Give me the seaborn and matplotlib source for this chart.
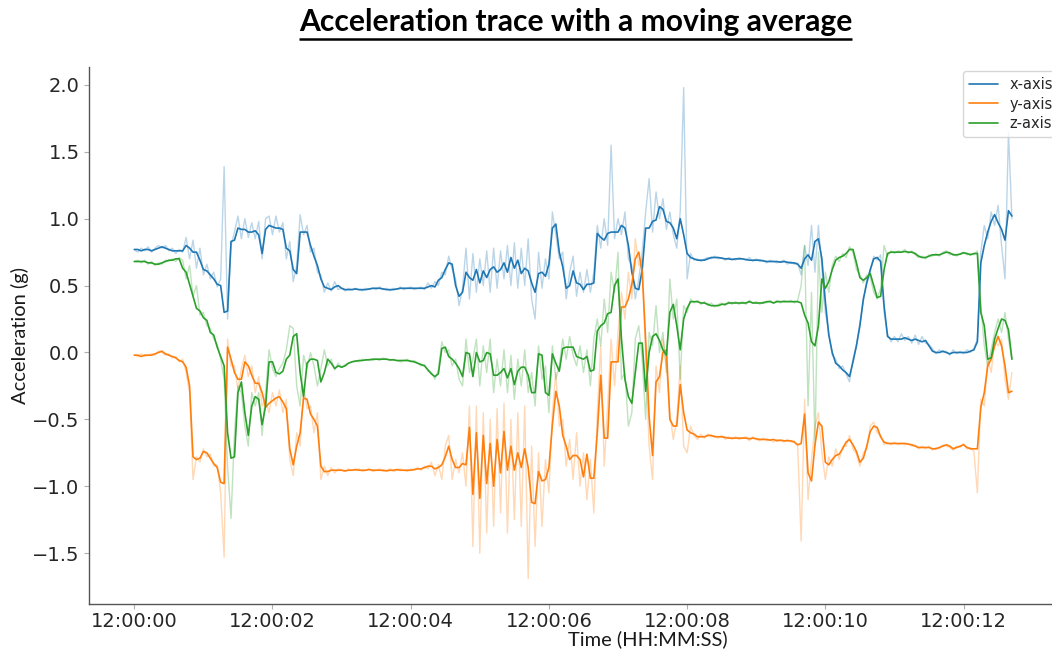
import numpy as np
import pandas as pd
import matplotlib
matplotlib.use("Agg")
import matplotlib.pyplot as plt
import matplotlib.dates as mdates
from matplotlib.lines import Line2D
from matplotlib.ticker import MultipleLocator
import seaborn as sns

# Sampling: one reading every 50 ms starting at 12:00:00
start = pd.Timestamp("2021-01-01 12:00:00")
step_s = 0.05
axis_names = ["x-axis", "y-axis", "z-axis"]
axis_colors = ["#1f77b4", "#ff7f0e", "#2ca02c"]

# ---- x-axis: raw trace and moving average (g) ----
x_raw = [
    0.77, 0.75, 0.78, 0.76, 0.79, 0.75, 0.78, 0.80, 0.78, 0.80,
    0.76, 0.78, 0.74, 0.77, 0.75, 0.86, 0.70, 0.84, 0.63, 0.78,
    0.58, 0.66, 0.55, 0.60, 0.49, 0.55, 1.39, 0.25, 0.80, 0.90,
    1.02, 0.85, 1.00, 0.86, 0.97, 0.85, 0.98, 0.70, 1.00, 1.02,
    0.88, 1.02, 0.90, 0.97, 0.70, 0.83, 0.53, 0.65, 1.03, 0.88,
    0.95, 0.75, 0.78, 0.60, 0.58, 0.45, 0.52, 0.46, 0.53, 0.47,
    0.48, 0.46, 0.48, 0.47, 0.48, 0.47, 0.46, 0.48, 0.47, 0.48,
    0.47, 0.49, 0.47, 0.48, 0.46, 0.48, 0.47, 0.49, 0.47, 0.48,
    0.49, 0.47, 0.48, 0.49, 0.47, 0.52, 0.48, 0.53, 0.50, 0.60,
    0.58, 0.72, 0.62, 0.55, 0.35, 0.48, 0.78, 0.40, 0.74, 0.45,
    0.70, 0.50, 0.76, 0.45, 0.78, 0.48, 0.76, 0.55, 0.80, 0.50,
    0.82, 0.48, 0.78, 0.50, 0.85, 0.40, 0.25, 0.75, 0.48, 0.70,
    0.55, 1.05, 0.88, 0.70, 0.75, 0.40, 0.60, 0.72, 0.42, 0.60,
    0.45, 0.62, 0.45, 0.60, 0.95, 0.78, 1.00, 0.80, 1.55, 0.85,
    1.00, 0.88, 1.05, 0.70, 0.65, 0.40, 0.55, 0.75, 1.05, 1.30,
    0.90, 1.20, 1.00, 1.15, 0.92, 1.05, 0.88, 0.78, 1.05, 1.98,
    0.55, 0.74, 0.69, 0.70, 0.68, 0.70, 0.71, 0.70, 0.72, 0.70,
    0.71, 0.69, 0.71, 0.70, 0.69, 0.71, 0.70, 0.69, 0.71, 0.68,
    0.70, 0.68, 0.69, 0.67, 0.69, 0.68, 0.67, 0.68, 0.69, 0.66,
    0.68, 0.66, 0.67, 0.58, 0.80, 0.65, 0.95, 0.60, 0.95, 0.62,
    0.30, 0.15, -0.02, -0.05, -0.12, -0.10, -0.16, -0.22, -0.05, 0.06,
    0.22, 0.38, 0.55, 0.60, 0.72, 0.69, 0.73, 0.30, 0.14, 0.08,
    0.12, 0.08, 0.14, 0.09, 0.12, 0.07, 0.13, 0.06, 0.12, 0.07,
    0.06, 0.03, -0.01, 0.02, 0.00, 0.01, -0.02, 0.02, -0.01, 0.01,
    -0.01, 0.02, 0.00, 0.03, 0.10, 0.75, 0.95, 0.85, 1.05, 0.95,
    1.10, 0.80, 0.55, 1.65, 1.00,
]
x_avg = [
    0.77, 0.77, 0.76, 0.77, 0.77, 0.76, 0.77, 0.78, 0.79, 0.78,
    0.77, 0.76, 0.76, 0.76, 0.76, 0.80, 0.78, 0.75, 0.75, 0.69,
    0.62, 0.61, 0.58, 0.55, 0.51, 0.50, 0.30, 0.31, 0.83, 0.84,
    0.93, 0.92, 0.92, 0.90, 0.90, 0.91, 0.88, 0.74, 0.92, 0.95,
    0.94, 0.93, 0.93, 0.92, 0.78, 0.76, 0.62, 0.59, 0.90, 0.90,
    0.90, 0.80, 0.72, 0.65, 0.55, 0.49, 0.48, 0.47, 0.49, 0.50,
    0.48, 0.47, 0.47, 0.47, 0.475, 0.47, 0.47, 0.47, 0.475, 0.48,
    0.48, 0.48, 0.475, 0.47, 0.47, 0.47, 0.475, 0.48, 0.48, 0.48,
    0.48, 0.48, 0.48, 0.48, 0.48, 0.49, 0.50, 0.49, 0.54, 0.56,
    0.62, 0.67, 0.66, 0.50, 0.42, 0.45, 0.60, 0.56, 0.54, 0.62,
    0.52, 0.61, 0.56, 0.62, 0.64, 0.60, 0.62, 0.67, 0.60, 0.71,
    0.63, 0.69, 0.59, 0.63, 0.61, 0.52, 0.45, 0.59, 0.60, 0.57,
    0.66, 0.93, 0.96, 0.75, 0.64, 0.48, 0.50, 0.61, 0.52, 0.51,
    0.47, 0.51, 0.51, 0.52, 0.89, 0.86, 0.84, 0.89, 0.90, 0.90,
    0.90, 0.95, 0.93, 0.80, 0.60, 0.48, 0.47, 0.62, 0.93, 0.93,
    0.98, 0.99, 1.09, 1.07, 0.98, 0.97, 0.93, 0.85, 1.00, 0.88,
    0.74, 0.71, 0.70, 0.69, 0.69, 0.69, 0.70, 0.71, 0.71, 0.71,
    0.705, 0.70, 0.70, 0.695, 0.70, 0.70, 0.70, 0.695, 0.69, 0.69,
    0.69, 0.69, 0.685, 0.68, 0.68, 0.68, 0.68, 0.675, 0.68, 0.675,
    0.67, 0.67, 0.66, 0.63, 0.70, 0.73, 0.69, 0.83, 0.85, 0.70,
    0.38, 0.13, 0.00, -0.08, -0.10, -0.13, -0.15, -0.18, -0.07, 0.05,
    0.20, 0.40, 0.52, 0.62, 0.70, 0.71, 0.68, 0.35, 0.12, 0.10,
    0.10, 0.10, 0.10, 0.11, 0.10, 0.09, 0.10, 0.09, 0.08, 0.09,
    0.05, 0.01, 0.00, 0.00, 0.01, 0.00, -0.01, 0.00, 0.00, 0.00,
    0.00, 0.00, 0.01, 0.02, 0.08, 0.67, 0.80, 0.90, 0.98, 1.03,
    0.97, 0.92, 0.84, 1.06, 1.02,
]

# ---- y-axis: raw trace and moving average (g) ----
y_raw = [
    -0.02, -0.03, -0.01, -0.03, -0.02, -0.01, -0.02, 0.01, 0.00, -0.02,
    -0.01, -0.04, -0.03, -0.07, -0.05, -0.15, -0.30, -0.95, -0.78, -0.82,
    -0.72, -0.78, -0.76, -0.85, -0.84, -1.05, -1.53, 0.10, -0.10, -0.10,
    -0.28, -0.12, -0.02, -0.18, -0.10, -0.30, -0.18, -0.40, -0.35, -0.45,
    -0.30, -0.40, -0.28, -0.45, -0.35, -0.80, -0.92, -0.60, -0.70, -0.25,
    -0.42, -0.40, -0.60, -0.45, -0.95, -0.85, -0.92, -0.86, -0.90, -0.87,
    -0.88, -0.89, -0.87, -0.88, -0.88, -0.87, -0.89, -0.88, -0.87, -0.89,
    -0.88, -0.87, -0.89, -0.88, -0.87, -0.89, -0.88, -0.87, -0.88, -0.89,
    -0.87, -0.88, -0.86, -0.88, -0.85, -0.87, -0.82, -0.92, -0.84, -0.95,
    -0.70, -0.62, -0.95, -0.80, -0.90, -0.75, -1.00, -0.40, -1.45, -0.40,
    -1.50, -0.45, -1.35, -0.50, -1.30, -0.42, -1.20, -0.38, -1.35, -0.50,
    -1.25, -0.45, -1.30, -0.40, -1.69, -0.70, -1.45, -0.75, -1.30, -0.80,
    -1.05, -0.45, -0.15, -0.55, -0.50, -0.85, -0.65, -0.95, -0.60, -1.00,
    -0.75, -1.10, -0.80, -1.20, -0.45, 0.05, -0.85, -0.40, 0.10, -0.25,
    0.15, 0.45, 0.25, 0.60, 0.40, 0.85, 0.65, 0.70, -0.05, -0.70,
    -0.95, -0.10, -0.30, 0.10, -0.10, -0.45, -0.65, -0.50, -0.10, -0.70,
    -0.75, -0.55, -0.62, -0.65, -0.61, -0.64, -0.61, -0.63, -0.62, -0.64,
    -0.62, -0.65, -0.63, -0.65, -0.63, -0.65, -0.64, -0.63, -0.66, -0.63,
    -0.65, -0.66, -0.64, -0.66, -0.65, -0.67, -0.65, -0.66, -0.67, -0.65,
    -0.67, -0.66, -0.70, -1.41, -0.35, -1.10, -0.80, -0.55, -0.45, -0.75,
    -0.95, -0.78, -0.85, -0.72, -0.80, -0.70, -0.70, -0.62, -0.72, -0.76,
    -0.85, -0.75, -0.72, -0.55, -0.52, -0.60, -0.62, -0.69, -0.67, -0.69,
    -0.67, -0.69, -0.68, -0.69, -0.68, -0.70, -0.69, -0.72, -0.70, -0.72,
    -0.70, -0.73, -0.71, -0.72, -0.69, -0.70, -0.71, -0.73, -0.70, -0.71,
    -0.68, -0.72, -0.71, -0.74, -1.05, -0.35, -0.40, -0.05, -0.15, 0.08,
    0.05, 0.10, -0.20, -0.35, -0.15,
]
y_avg = [
    -0.02, -0.02, -0.03, -0.02, -0.02, -0.02, -0.01, 0.00, 0.01, -0.01,
    -0.02, -0.03, -0.04, -0.06, -0.07, -0.11, -0.25, -0.78, -0.80, -0.79,
    -0.74, -0.75, -0.79, -0.83, -0.86, -0.97, -0.98, 0.04, -0.05, -0.15,
    -0.20, -0.20, -0.07, -0.10, -0.17, -0.23, -0.23, -0.30, -0.41, -0.38,
    -0.36, -0.34, -0.33, -0.37, -0.42, -0.72, -0.84, -0.70, -0.60, -0.34,
    -0.35, -0.46, -0.50, -0.55, -0.85, -0.89, -0.89, -0.88, -0.88, -0.88,
    -0.88, -0.885, -0.88, -0.88, -0.875, -0.88, -0.88, -0.88, -0.875, -0.88,
    -0.88, -0.88, -0.88, -0.885, -0.88, -0.88, -0.875, -0.88, -0.88, -0.88,
    -0.88, -0.875, -0.87, -0.87, -0.86, -0.85, -0.85, -0.87, -0.86, -0.84,
    -0.78, -0.70, -0.80, -0.86, -0.86, -0.83, -0.84, -0.56, -1.06, -0.60,
    -1.09, -0.62, -0.98, -0.68, -1.00, -0.65, -0.90, -0.59, -0.88, -0.70,
    -0.88, -0.75, -0.86, -0.72, -0.86, -1.12, -1.13, -0.89, -0.96, -0.95,
    -0.86, -0.54, -0.29, -0.40, -0.62, -0.70, -0.80, -0.77, -0.77, -0.80,
    -0.93, -0.76, -0.94, -0.94, -0.60, -0.17, -0.64, -0.64, -0.07, -0.07,
    -0.07, 0.34, 0.34, 0.40, 0.51, 0.70, 0.75, 0.60, 0.09, -0.48,
    -0.77, -0.22, -0.18, 0.00, 0.02, -0.50, -0.55, -0.55, -0.24, -0.45,
    -0.58, -0.60, -0.61, -0.63, -0.63, -0.63, -0.62, -0.62, -0.63, -0.63,
    -0.63, -0.635, -0.64, -0.64, -0.64, -0.64, -0.64, -0.64, -0.645, -0.64,
    -0.645, -0.65, -0.65, -0.65, -0.655, -0.65, -0.66, -0.655, -0.66, -0.66,
    -0.66, -0.67, -0.69, -0.68, -0.46, -0.90, -0.96, -0.69, -0.52, -0.55,
    -0.82, -0.84, -0.80, -0.77, -0.76, -0.72, -0.67, -0.65, -0.69, -0.74,
    -0.82, -0.79, -0.70, -0.59, -0.55, -0.56, -0.63, -0.67, -0.68, -0.68,
    -0.68, -0.68, -0.68, -0.68, -0.685, -0.69, -0.70, -0.71, -0.71, -0.71,
    -0.71, -0.72, -0.72, -0.71, -0.70, -0.69, -0.70, -0.72, -0.71, -0.70,
    -0.69, -0.71, -0.72, -0.72, -0.72, -0.41, -0.30, -0.10, -0.05, 0.05,
    0.12, 0.05, -0.10, -0.30, -0.29,
]

# ---- z-axis: raw trace and moving average (g) ----
z_raw = [
    0.68, 0.69, 0.67, 0.69, 0.66, 0.68, 0.65, 0.67, 0.66, 0.69,
    0.68, 0.70, 0.68, 0.71, 0.69, 0.55, 0.65, 0.42, 0.50, 0.28,
    0.30, 0.20, 0.18, 0.10, 0.06, -0.05, -0.20, -0.85, -1.24, -0.60,
    -0.25, -0.30, -0.55, -0.70, -0.30, -0.40, -0.30, -0.62, -0.30, 0.02,
    -0.12, -0.18, -0.12, -0.08, 0.02, 0.20, 0.18, -0.25, -0.40, -0.02,
    -0.12, 0.00, -0.10, -0.25, -0.12, 0.02, -0.10, -0.05, -0.13, -0.08,
    -0.11, -0.09, -0.08, -0.07, -0.06, -0.07, -0.05, -0.06, -0.05, -0.06,
    -0.05, -0.06, -0.04, -0.05, -0.06, -0.05, -0.06, -0.07, -0.06, -0.05,
    -0.07, -0.06, -0.08, -0.10, -0.09, -0.14, -0.15, -0.20, -0.13, 0.08,
    0.00, 0.02, -0.10, -0.05, -0.20, -0.25, 0.10, -0.15, -0.05, 0.10,
    -0.25, 0.05, -0.15, 0.10, -0.30, -0.05, -0.25, 0.02, -0.30, -0.02,
    -0.35, -0.05, -0.25, 0.02, -0.30, -0.15, -0.40, 0.05, -0.20, -0.10,
    -0.45, 0.05, -0.20, -0.10, 0.10, -0.05, 0.12, -0.02, -0.10, 0.05,
    -0.15, 0.02, -0.25, 0.10, 0.25, 0.05, 0.40, 0.15, 0.60, 0.45,
    0.75, -0.20, -0.15, -0.55, -0.45, 0.10, 0.20, -0.05, -0.50, 0.15,
    0.05, 0.35, 0.00, 0.15, -0.15, 0.55, 0.25, 0.40, -0.20, 0.35,
    0.30, 0.40, 0.37, 0.39, 0.36, 0.38, 0.35, 0.37, 0.34, 0.36,
    0.37, 0.35, 0.38, 0.36, 0.38, 0.36, 0.38, 0.36, 0.39, 0.37,
    0.38, 0.36, 0.38, 0.37, 0.39, 0.37, 0.39, 0.37, 0.39, 0.38,
    0.39, 0.37, 0.39, 0.50, 0.80, -0.40, 0.45, -0.70, 0.75, 0.30,
    0.60, 0.45, 0.65, 0.72, 0.68, 0.74, 0.71, 0.79, 0.75, 0.62,
    0.58, 0.52, 0.58, 0.56, 0.45, 0.40, 0.48, 0.80, 0.72, 0.76,
    0.74, 0.76, 0.75, 0.77, 0.74, 0.76, 0.73, 0.71, 0.72, 0.70,
    0.73, 0.72, 0.74, 0.72, 0.75, 0.76, 0.73, 0.74, 0.72, 0.74,
    0.75, 0.73, 0.74, 0.73, 0.76, 0.35, 0.05, -0.10, 0.02, 0.15,
    0.25, 0.15, 0.30, 0.10, -0.05,
]
z_avg = [
    0.68, 0.68, 0.68, 0.68, 0.67, 0.67, 0.66, 0.66, 0.67, 0.68,
    0.69, 0.69, 0.70, 0.70, 0.63, 0.60, 0.51, 0.42, 0.33, 0.31,
    0.26, 0.24, 0.15, 0.13, 0.04, -0.03, -0.10, -0.60, -0.79, -0.78,
    -0.30, -0.22, -0.45, -0.62, -0.40, -0.33, -0.35, -0.54, -0.40, -0.07,
    -0.07, -0.15, -0.16, -0.14, -0.05, -0.02, 0.12, 0.14, -0.15, -0.33,
    -0.08, -0.05, -0.05, -0.06, -0.22, -0.15, -0.05, -0.08, -0.12, -0.10,
    -0.11, -0.10, -0.08, -0.07, -0.065, -0.06, -0.06, -0.055, -0.055, -0.05,
    -0.05, -0.05, -0.05, -0.05, -0.055, -0.055, -0.06, -0.06, -0.06, -0.06,
    -0.065, -0.07, -0.08, -0.09, -0.10, -0.13, -0.16, -0.18, -0.16, 0.03,
    0.04, -0.03, -0.05, -0.08, -0.12, -0.18, 0.00, -0.01, -0.18, 0.00,
    -0.07, -0.06, 0.00, -0.01, -0.17, -0.17, -0.15, -0.12, -0.19, -0.12,
    -0.24, -0.14, -0.11, -0.11, -0.17, -0.30, -0.30, -0.01, -0.02, -0.30,
    -0.32, -0.01, -0.08, -0.14, 0.03, 0.04, 0.04, 0.04, -0.03, -0.04,
    -0.05, -0.03, -0.14, -0.13, 0.16, 0.20, 0.22, 0.29, 0.30, 0.50,
    0.55, 0.10, -0.20, -0.33, -0.38, -0.15, 0.07, 0.07, -0.29, 0.00,
    0.12, 0.14, 0.09, 0.02, -0.02, 0.30, 0.36, 0.20, 0.02, 0.25,
    0.33, 0.38, 0.38, 0.38, 0.37, 0.37, 0.36, 0.35, 0.35, 0.35,
    0.36, 0.36, 0.37, 0.37, 0.37, 0.37, 0.37, 0.37, 0.38, 0.37,
    0.37, 0.37, 0.37, 0.38, 0.38, 0.37, 0.38, 0.38, 0.38, 0.38,
    0.38, 0.38, 0.38, 0.37, 0.28, 0.22, 0.08, 0.05, 0.20, 0.55,
    0.48, 0.53, 0.62, 0.69, 0.71, 0.72, 0.74, 0.77, 0.77, 0.67,
    0.56, 0.54, 0.56, 0.59, 0.50, 0.41, 0.42, 0.62, 0.74, 0.75,
    0.75, 0.75, 0.75, 0.755, 0.75, 0.75, 0.74, 0.72, 0.71, 0.71,
    0.72, 0.73, 0.73, 0.73, 0.74, 0.75, 0.745, 0.73, 0.73, 0.735,
    0.745, 0.74, 0.73, 0.74, 0.74, 0.30, 0.20, -0.05, -0.04, 0.10,
    0.18, 0.25, 0.24, 0.17, -0.05,
]


def long_frame(series):
    parts = []
    for name, values in zip(axis_names, series):
        secs = np.arange(len(values)) * step_s
        parts.append(pd.DataFrame({
            "time": start + pd.to_timedelta(secs, unit="s"),
            "accel": values,
            "axis": name,
        }))
    return pd.concat(parts, ignore_index=True)


raw_df = long_frame([x_raw, y_raw, z_raw])
avg_df = long_frame([x_avg, y_avg, z_avg])

sns.set_style("ticks")
plt.rcParams["font.family"] = ["DejaVu Sans"]

palette = dict(zip(axis_names, axis_colors))

fig = plt.figure(figsize=(10.52, 6.5), dpi=100)
W, H = 1052.0, 650.0
ax = fig.add_axes([89.3 / W, 46 / H, (W - 89.3) / W, 537 / H])

sns.lineplot(data=raw_df, x="time", y="accel", hue="axis", palette=palette,
             estimator=None, alpha=0.3, linewidth=1.0, legend=False, ax=ax)
sns.lineplot(data=avg_df, x="time", y="accel", hue="axis", palette=palette,
             estimator=None, linewidth=1.2, legend=False, ax=ax)

ax.set_xlim(start + pd.Timedelta(seconds=-0.651), start + pd.Timedelta(seconds=13.28))
ax.set_ylim(-1.88, 2.134)
ax.xaxis.set_major_locator(mdates.SecondLocator(bysecond=range(0, 60, 2)))
ax.xaxis.set_major_formatter(mdates.DateFormatter("%H:%M:%S"))
ax.yaxis.set_major_locator(MultipleLocator(0.5))

ax.tick_params(labelsize=14, length=3.5, width=0.8, color="#b0b0b0",
               labelcolor="#262626")
ax.tick_params(axis="x", pad=2.0)
for side in ("top", "right"):
    ax.spines[side].set_visible(False)
for side in ("left", "bottom"):
    ax.spines[side].set_color("#555555")
    ax.spines[side].set_linewidth(1.0)

label_font = dict(family=["Lato", "DejaVu Sans"], size=14.5, color="#1a1a1a")
ax.set_xlabel("Time (HH:MM:SS)", va="center", **label_font)
ax.xaxis.set_label_coords((648 - 89.3) / (W - 89.3), (604 - 639) / 537)
ax.set_ylabel("Acceleration (g)", va="center", **label_font)
ax.yaxis.set_label_coords((20 - 89.3) / (W - 89.3), (604 - 335) / 537)

handles = [Line2D([], [], color=c, linewidth=1.2) for c in axis_colors]
ax.legend(handles, axis_names, loc="upper left",
          bbox_to_anchor=(963 / W, 1 - 71 / H), bbox_transform=fig.transFigure,
          borderaxespad=0, fontsize=10.5, labelspacing=0.32,
          handlelength=2.0, frameon=True)

title = fig.text(575.5 / W, 1 - 22 / H, "Acceleration trace with a moving average",
                 ha="center", va="center", fontsize=21, fontweight="bold",
                 family=["Lato", "DejaVu Sans"], color="black")
fig.canvas.draw()
bb = title.get_window_extent()
title.set_fontsize(title.get_fontsize() * 551.0 / bb.width)
fig.canvas.draw()
bb = title.get_window_extent()
underline_y = 1 - 39 / H
fig.add_artist(Line2D([bb.x0 / W, bb.x1 / W], [underline_y, underline_y],
                      transform=fig.transFigure, color="black", linewidth=1.8,
                      solid_capstyle="butt"))

fig.savefig("out.png", dpi=100)
